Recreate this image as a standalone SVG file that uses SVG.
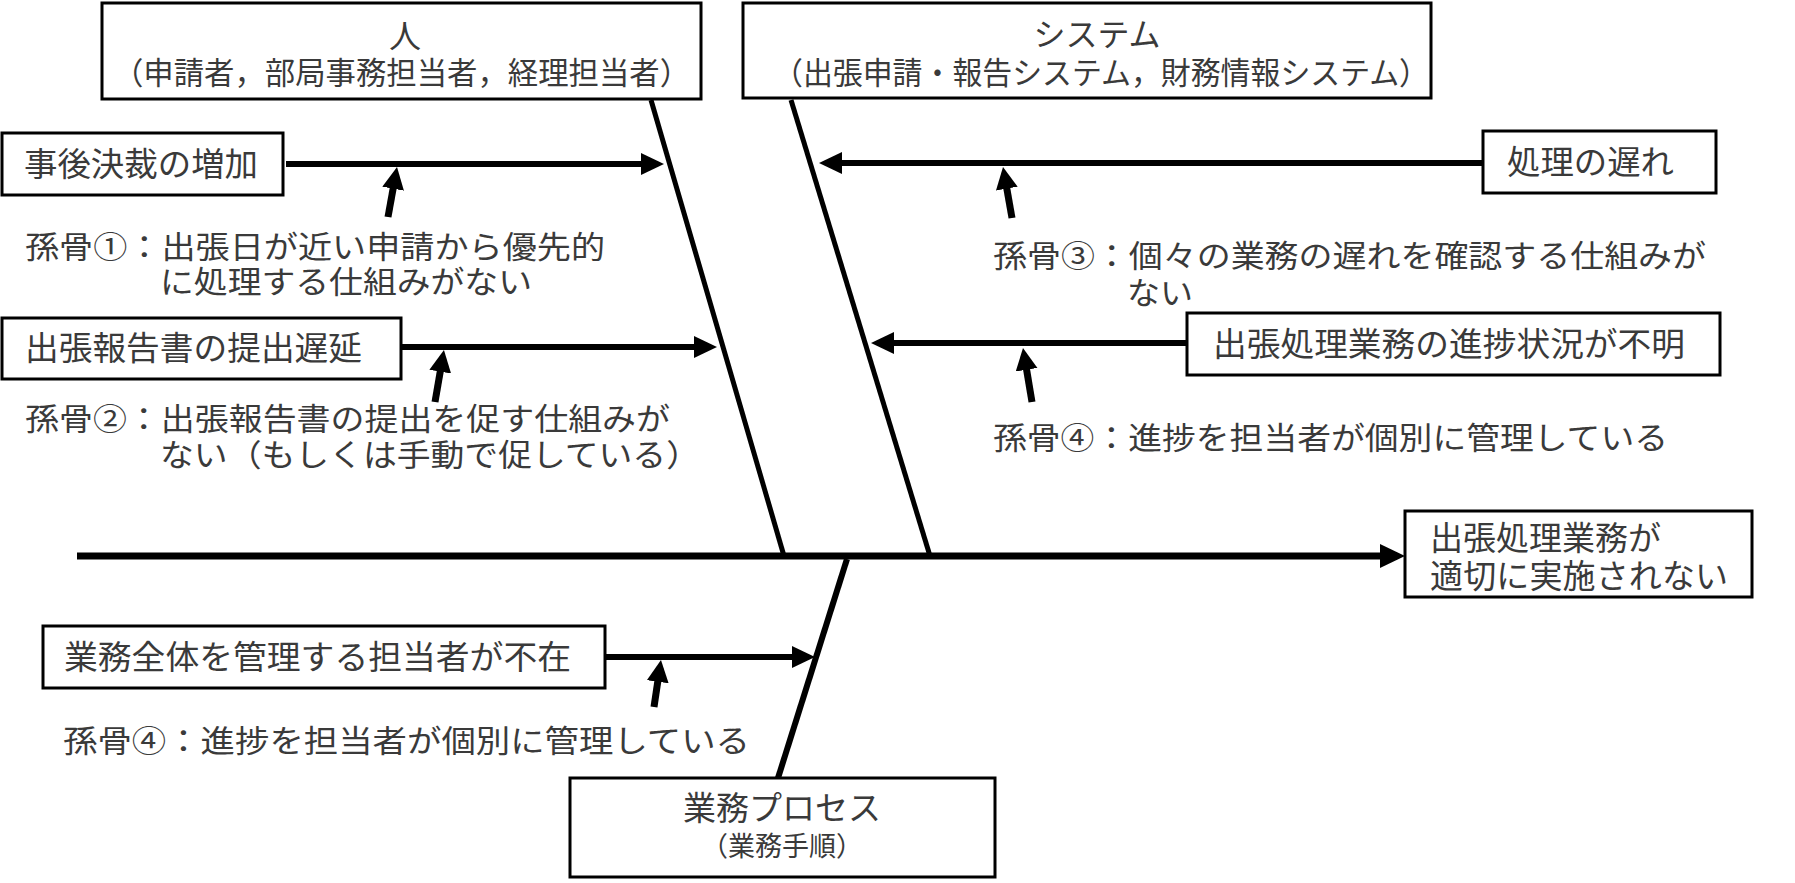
<svg xmlns="http://www.w3.org/2000/svg" width="1795" height="883" viewBox="0 0 1795 883">
<style>
.t{font-family:"Noto Sans CJK JP","Noto Sans CJK SC",sans-serif;fill:#3a3a3a;font-size:33px}
.s31{font-size:31px}.s32{font-size:32px}.s33{font-size:33px}.s27{font-size:27px}
.mid{text-anchor:middle}
.box{fill:#fff;stroke:#000;stroke-width:3}
.bone{stroke:#000;stroke-width:5;fill:none}
.arr{stroke:#000;stroke-width:6;fill:none;marker-end:url(#ah)}
.sm{stroke:#000;stroke-width:7;fill:none;marker-end:url(#sh)}
.spine{stroke:#000;stroke-width:7;fill:none;marker-end:url(#bh)}
</style>
<defs>
<marker id="ah" markerUnits="userSpaceOnUse" markerWidth="24" markerHeight="24" refX="15" refY="11" orient="auto"><path d="M0,0 L23,11 L0,22 Z" fill="#000"/></marker>
<marker id="sh" markerUnits="userSpaceOnUse" markerWidth="24" markerHeight="24" refX="14" refY="11" orient="auto"><path d="M0,0 L22,11 L0,22 Z" fill="#000"/></marker>
<marker id="bh" markerUnits="userSpaceOnUse" markerWidth="26" markerHeight="26" refX="17" refY="12" orient="auto"><path d="M0,0 L25,12 L0,24 Z" fill="#000"/></marker>
</defs>
<rect width="1795" height="883" fill="#fff"/>

<g id="connectors">
<line class="bone" x1="651" y1="100" x2="784" y2="556"/>
<line class="bone" x1="791" y1="100" x2="930" y2="556"/>
<line class="bone" x1="847" y1="559" x2="778" y2="778" style="stroke-width:6"/>
<line class="spine" x1="77" y1="556" x2="1397" y2="556"/>
<line class="arr" x1="286" y1="164" x2="656" y2="164"/>
<line class="arr" x1="402" y1="347" x2="709" y2="347"/>
<line class="arr" x1="1483" y1="163" x2="827" y2="163"/>
<line class="arr" x1="1187" y1="343" x2="879" y2="343"/>
<line class="arr" x1="605" y1="657" x2="807" y2="657"/>
<line class="sm" x1="388" y1="217" x2="395.6" y2="174.9"/>
<line class="sm" x1="435" y1="402" x2="442.6" y2="357.9"/>
<line class="sm" x1="1012" y1="218" x2="1004.4" y2="174.9"/>
<line class="sm" x1="1032" y1="402" x2="1024.3" y2="355.9"/>
<line class="sm" x1="654" y1="707" x2="659.8" y2="667.9"/>
</g>

<g id="people">
<rect class="box" x="102" y="3" width="599" height="96"/>
<text class="t s32 mid" x="405" y="48">人</text>
<text class="t s31" x="113" y="84" textLength="577" lengthAdjust="spacingAndGlyphs">（申請者，部局事務担当者，経理担当者）</text>
</g>

<g id="system">
<rect class="box" x="743" y="3" width="688" height="95"/>
<text class="t s32 mid" x="1097" y="46">システム</text>
<text class="t s31" x="773" y="84" textLength="656" lengthAdjust="spacingAndGlyphs">（出張申請・報告システム，財務情報システム）</text>
</g>

<g id="process">
<rect class="box" x="570" y="778" width="425" height="99"/>
<text class="t s33 mid" x="782" y="820">業務プロセス</text>
<text class="t s27 mid" x="782" y="856">（業務手順）</text>
</g>

<g id="effect">
<rect class="box" x="1405" y="511" width="347" height="86"/>
<text class="t s33" x="1430" y="550">出張処理業務が</text>
<text class="t s33" x="1430" y="588" textLength="298">適切に実施されない</text>
</g>

<g id="cause1">
<rect class="box" x="2" y="133" width="281" height="62"/>
<text class="t" x="24" y="176" textLength="234" lengthAdjust="spacingAndGlyphs">事後決裁の増加</text>
</g>
<g id="sub1">
<text class="t s31" x="25" y="258" textLength="580" lengthAdjust="spacingAndGlyphs">孫骨①：出張日が近い申請から優先的</text>
<text class="t s31" x="160" y="293" textLength="372" lengthAdjust="spacingAndGlyphs">に処理する仕組みがない</text>
</g>

<g id="cause2">
<rect class="box" x="2" y="318" width="399" height="61"/>
<text class="t" x="25" y="360" textLength="337" lengthAdjust="spacingAndGlyphs">出張報告書の提出遅延</text>
</g>
<g id="sub2">
<text class="t s31" x="25" y="430" textLength="645" lengthAdjust="spacingAndGlyphs">孫骨②：出張報告書の提出を促す仕組みが</text>
<text class="t s31" x="160" y="466" textLength="540" lengthAdjust="spacingAndGlyphs">ない（もしくは手動で促している）</text>
</g>

<g id="cause3">
<rect class="box" x="1483" y="131" width="233" height="62"/>
<text class="t" x="1507" y="174" textLength="167" lengthAdjust="spacingAndGlyphs">処理の遅れ</text>
</g>
<g id="sub3">
<text class="t s31" x="993" y="267" textLength="713" lengthAdjust="spacingAndGlyphs">孫骨③：個々の業務の遅れを確認する仕組みが</text>
<text class="t s31" x="1127" y="304" textLength="66" lengthAdjust="spacingAndGlyphs">ない</text>
</g>

<g id="cause4">
<rect class="box" x="1187" y="313" width="533" height="62"/>
<text class="t" x="1213" y="356" textLength="472" lengthAdjust="spacingAndGlyphs">出張処理業務の進捗状況が不明</text>
</g>
<g id="sub4">
<text class="t s31" x="993" y="449" textLength="675" lengthAdjust="spacingAndGlyphs">孫骨④：進捗を担当者が個別に管理している</text>
</g>

<g id="cause5">
<rect class="box" x="43" y="626" width="562" height="62"/>
<text class="t" x="64" y="669" textLength="507" lengthAdjust="spacingAndGlyphs">業務全体を管理する担当者が不在</text>
</g>
<g id="sub5">
<text class="t s31" x="63" y="752" textLength="687" lengthAdjust="spacingAndGlyphs">孫骨④：進捗を担当者が個別に管理している</text>
</g>
</svg>
